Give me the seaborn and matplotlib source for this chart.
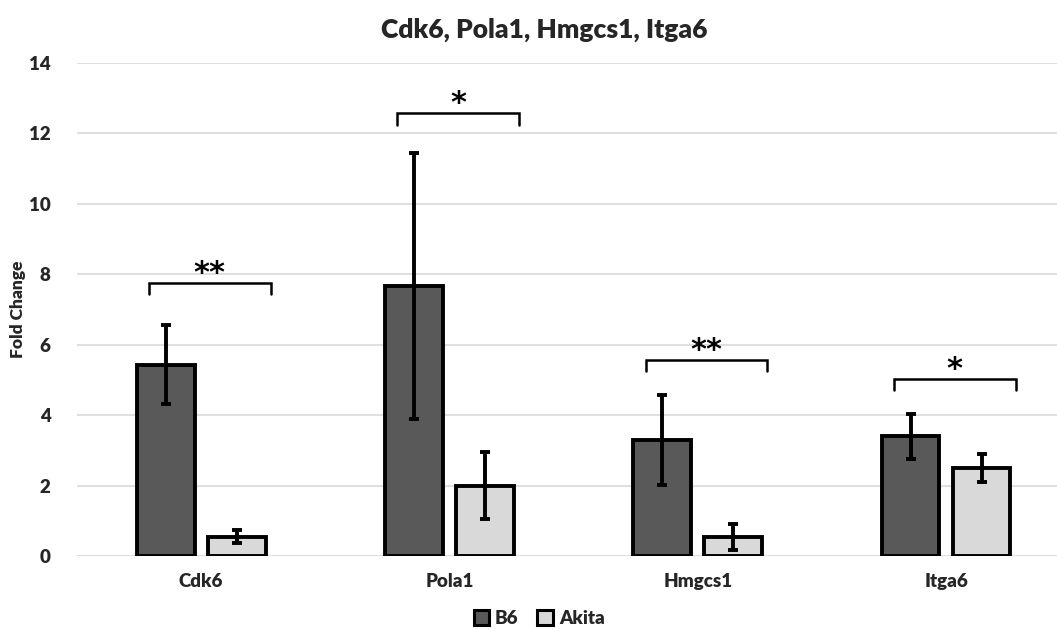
import matplotlib
matplotlib.use("Agg")
import matplotlib.pyplot as plt
import seaborn as sns
import pandas as pd
import numpy as np

genes = ["Cdk6", "Pola1", "Hmgcs1", "Itga6"]
groups = ["B6", "Akita"]
b6_mean = [5.43, 7.67, 3.30, 3.40]
b6_err = [1.12, 3.77, 1.28, 0.64]
akita_mean = [0.55, 2.00, 0.55, 2.50]
akita_err = [0.18, 0.95, 0.37, 0.40]
sig_labels = ["**", "*", "**", "*"]
bracket_y = [7.76, 12.58, 5.57, 5.03]
yticks = [0, 2, 4, 6, 8, 10, 12, 14]

df = pd.DataFrame({
    "gene": genes * 2,
    "group": ["B6"] * 4 + ["Akita"] * 4,
    "value": b6_mean + akita_mean,
    "err": b6_err + akita_err,
})

sns.set_theme(style="white")
plt.rcParams["font.family"] = ["Lato", "DejaVu Sans"]
plt.rcParams["font.weight"] = "bold"

fig = plt.figure(figsize=(10.57, 6.30), dpi=100)
ax = fig.add_axes([77 / 1057, 1 - 556 / 630, 1 - 77 / 1057, (556 - 63) / 630])

palette = {"B6": "#595959", "Akita": "#d9d9d9"}
sns.barplot(data=df, x="gene", y="value", hue="group", order=genes,
            hue_order=groups, palette=palette, width=0.572, gap=0.185,
            errorbar=None, edgecolor="black", linewidth=2.8, ax=ax,
            legend=True, zorder=3)

# error bars at the bar centres placed by seaborn
bars = [p for p in ax.patches if p.get_height() > 0][:8]
for p, (_, row) in zip(bars, df.iterrows()):
    cx = p.get_x() + p.get_width() / 2
    ax.errorbar(cx, row["value"], yerr=row["err"], fmt="none",
                ecolor="black", elinewidth=2.8, capsize=3.5, capthick=2.8,
                zorder=4)

# significance brackets
for i, (lab, yb) in enumerate(zip(sig_labels, bracket_y)):
    x0, x1 = i - 0.21, i + 0.28
    ax.plot([x0, x0, x1, x1], [yb - 0.33, yb, yb, yb - 0.33],
            color="black", lw=1.8, zorder=5, solid_joinstyle="miter")
    ax.text((x0 + x1) / 2, yb - 0.15, lab, ha="center", va="bottom",
            fontsize=22, fontweight="heavy", color="black",
            family=["DejaVu Sans"])

ax.set_xlim(-0.5, 3.447)
ax.set_ylim(0, 14)
ax.set_yticks(yticks)
ax.yaxis.grid(True, color="#d9d9d9", linewidth=1.2)
ax.set_axisbelow(True)
for s in ax.spines.values():
    s.set_visible(False)
ax.tick_params(axis="x", length=0, labelsize=13.5, pad=12)
ax.tick_params(axis="y", length=0, labelsize=13.5, pad=19)
for t in ax.get_xticklabels() + ax.get_yticklabels():
    t.set_fontweight("heavy")
ax.set_xlabel("")
ax.set_ylabel("Fold Change", fontsize=12.5, fontweight="heavy", labelpad=2)

fig.text(0.515, 0.952, "Cdk6, Pola1, Hmgcs1, Itga6", ha="center", va="center",
         fontsize=19, fontweight="heavy")

ax.legend_.remove()
handles = [plt.Rectangle((0, 0), 1, 1, facecolor=palette[g], edgecolor="black",
                         linewidth=2.2) for g in groups]
fig.legend(handles, groups, loc="center", bbox_to_anchor=(0.51, 0.018),
           ncol=2, frameon=False, handlelength=0.85,
           handleheight=0.85, handletextpad=0.3, columnspacing=1.0,
           prop={"weight": "heavy", "size": 13.5})

fig.savefig("out.png", dpi=100, facecolor="white")
